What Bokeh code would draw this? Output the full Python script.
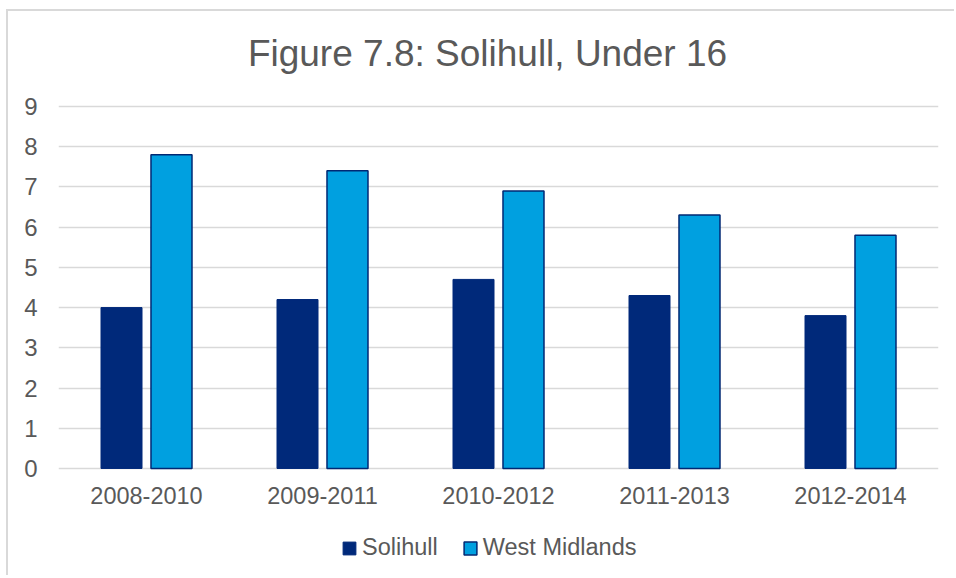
from bokeh.plotting import figure
from bokeh.models import ColumnDataSource, FactorRange, Range1d, FixedTicker, Legend, LegendItem
from bokeh.core.properties import value
from bokeh.transform import dodge
from bokeh.embed import file_html
from bokeh.resources import INLINE

periods = ["2008-2010", "2009-2011", "2010-2012", "2011-2013", "2012-2014"]
solihull = [4.0, 4.2, 4.7, 4.3, 3.8]
west_midlands = [7.8, 7.4, 6.9, 6.3, 5.8]
y_ticks = [0, 1, 2, 3, 4, 5, 6, 7, 8, 9]
title_text = "Figure 7.8: Solihull, Under 16"
series_names = ["Solihull", "West Midlands"]

src = ColumnDataSource(dict(period=periods, sol=solihull, wm=west_midlands,
                            base=[0] * len(periods)))

FONT = "Liberation Sans"
TXT = "#595959"
GRID = "#D9D9D9"

p = figure(
    x_range=FactorRange(factors=periods, range_padding=0),
    y_range=Range1d(-2.71, 11.36),
    width=948, height=566,
    output_backend="svg", toolbar_location=None,
    x_axis_location=None,
    min_border_left=50, min_border_right=18,
    min_border_top=0, min_border_bottom=0,
    styles={"margin-left": "6px", "margin-top": "9px",
            "border-left": "2px solid #D9D9D9", "border-top": "2px solid #D9D9D9"},
)
p.title = None
p.outline_line_color = None
p.background_fill_color = "white"
p.border_fill_color = "white"

r1 = p.vbar(x=dodge("period", -0.142, range=p.x_range), top="sol", width=0.233,
            source=src, fill_color="#00297A", line_color="#00297A", line_width=1)
r2 = p.vbar(x=dodge("period", 0.142, range=p.x_range), top="wm", width=0.233,
            source=src, fill_color="#00A0E0", line_color="#002873", line_width=1.5)

# category labels under the zero line
p.text(x="period", y="base", text="period", source=src, text_align="center",
       text_baseline="top", y_offset=19, text_font=value(FONT),
       text_font_size=value("23.5px"), text_color=TXT)

# chart title, centred over the middle category
p.text(x=[periods[2]], y=[10.32], text=[title_text], text_align="center",
       text_baseline="alphabetic", x_offset=-11, text_font=value(FONT),
       text_font_size=value("37px"), text_color=TXT)

p.yaxis.ticker = FixedTicker(ticks=y_ticks)
p.yaxis.axis_line_color = None
p.yaxis.major_tick_line_color = None
p.yaxis.minor_tick_line_color = None
p.yaxis.major_label_standoff = 15
p.yaxis.major_label_text_font = FONT
p.yaxis.major_label_text_font_size = "24px"
p.yaxis.major_label_text_color = TXT

for g in p.grid:
    if g.dimension == 0:
        g.visible = False
    else:
        g.grid_line_color = GRID
        g.grid_line_width = 1.5
        g.level = "underlay"

legend = Legend(items=[LegendItem(label=series_names[0], renderers=[r1]),
                       LegendItem(label=series_names[1], renderers=[r2])],
                orientation="horizontal", location=(283, 16),
                label_text_font=FONT, label_text_font_size="23.5px", label_text_color=TXT,
                glyph_width=16, glyph_height=16, label_standoff=5, spacing=24,
                border_line_color=None, background_fill_alpha=0, padding=4, margin=0)
p.add_layout(legend, "center")

open("out.html", "w").write(file_html(p, INLINE))
